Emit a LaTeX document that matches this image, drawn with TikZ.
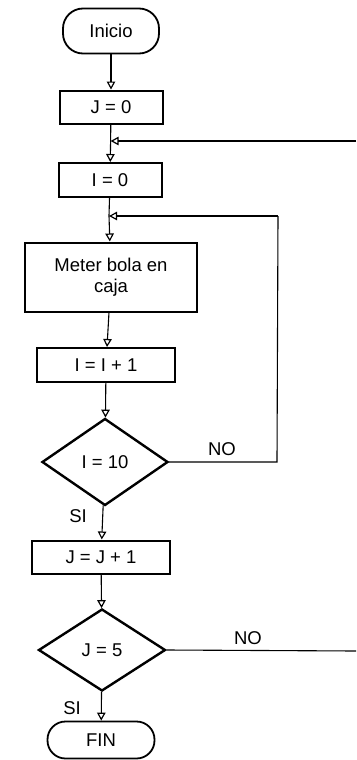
\documentclass[tikz,border=0pt]{standalone}
\usepackage{fontspec}
\setmainfont{Liberation Sans}
\usetikzlibrary{shapes.geometric,arrows.meta}
\begin{document}
\begin{tikzpicture}[x=1pt,y=-1pt,
  every node/.style={font=\fontsize{18.5}{21}\selectfont},
  term/.style={draw,line width=1.8pt,rounded corners=20pt,inner sep=0pt},
  proc/.style={draw,line width=2pt,inner sep=0pt,align=center},
  decision/.style={draw,diamond,line width=2.4pt,inner sep=0pt},
  conn/.style={line width=1.1pt},
  arr/.style={conn,-{Triangle[open,length=8pt,width=8.5pt,line width=1.2pt]}},
  lbl/.style={inner sep=0pt}]
\useasboundingbox (0,0) rectangle (356,760);
\node[term,minimum width=96pt,minimum height=45pt] (inicio) at (111,31) {Inicio};
\node[proc,minimum width=103pt,minimum height=33pt] (j0) at (111,107) {J = 0};
\node[proc,minimum width=103pt,minimum height=34pt] (i0) at (110,180) {I = 0};
\node[proc,minimum width=172pt,minimum height=69pt] (meter) at (111,277) {Meter bola en\\caja};
\node[proc,minimum width=138pt,minimum height=34pt] (inc) at (106,365) {I = I + 1};
\node[decision,minimum width=126pt,minimum height=87pt] (d1) at (105,462) {I = 10};
\node[proc,minimum width=138pt,minimum height=33pt] (jinc) at (101,557) {J = J + 1};
\node[decision,minimum width=127pt,minimum height=82pt] (d2) at (102,650) {J = 5};
\node[term,minimum width=107pt,minimum height=37pt,rounded corners=18pt] (fin) at (101,740) {FIN};
\coordinate (m1) at (110.6,141);
\coordinate (m2) at (109,216);
\coordinate (r1) at (356,141);
\coordinate (c1) at (277,462);
\coordinate (c2) at (278,216);
\coordinate (r2) at (356,651);
\draw[arr] (inicio) -- (j0);
\draw[conn] (j0) -- (m1);
\draw[arr] (m1) -- (i0);
\draw[arr] (r1) -- (m1);
\draw[conn] (i0) -- (m2);
\draw[arr] (m2) -- (meter);
\draw[arr] (meter) -- (inc);
\draw[arr] (inc) -- (d1);
\draw[arr] (d1) -- (jinc);
\draw[conn] (d1.east) -- (c1) -- (c2);
\draw[arr] (c2) -- (m2);
\draw[arr] (jinc) -- (d2);
\draw[arr] (d2) -- (fin);
\draw[conn] (d2.east) -- (r2);
\node[lbl] (no1) at (222,449) {NO};
\node[lbl] (si1) at (78,516) {SI};
\node[lbl] (no2) at (248,638) {NO};
\node[lbl] (si2) at (72,708) {SI};
\end{tikzpicture}
\end{document}
